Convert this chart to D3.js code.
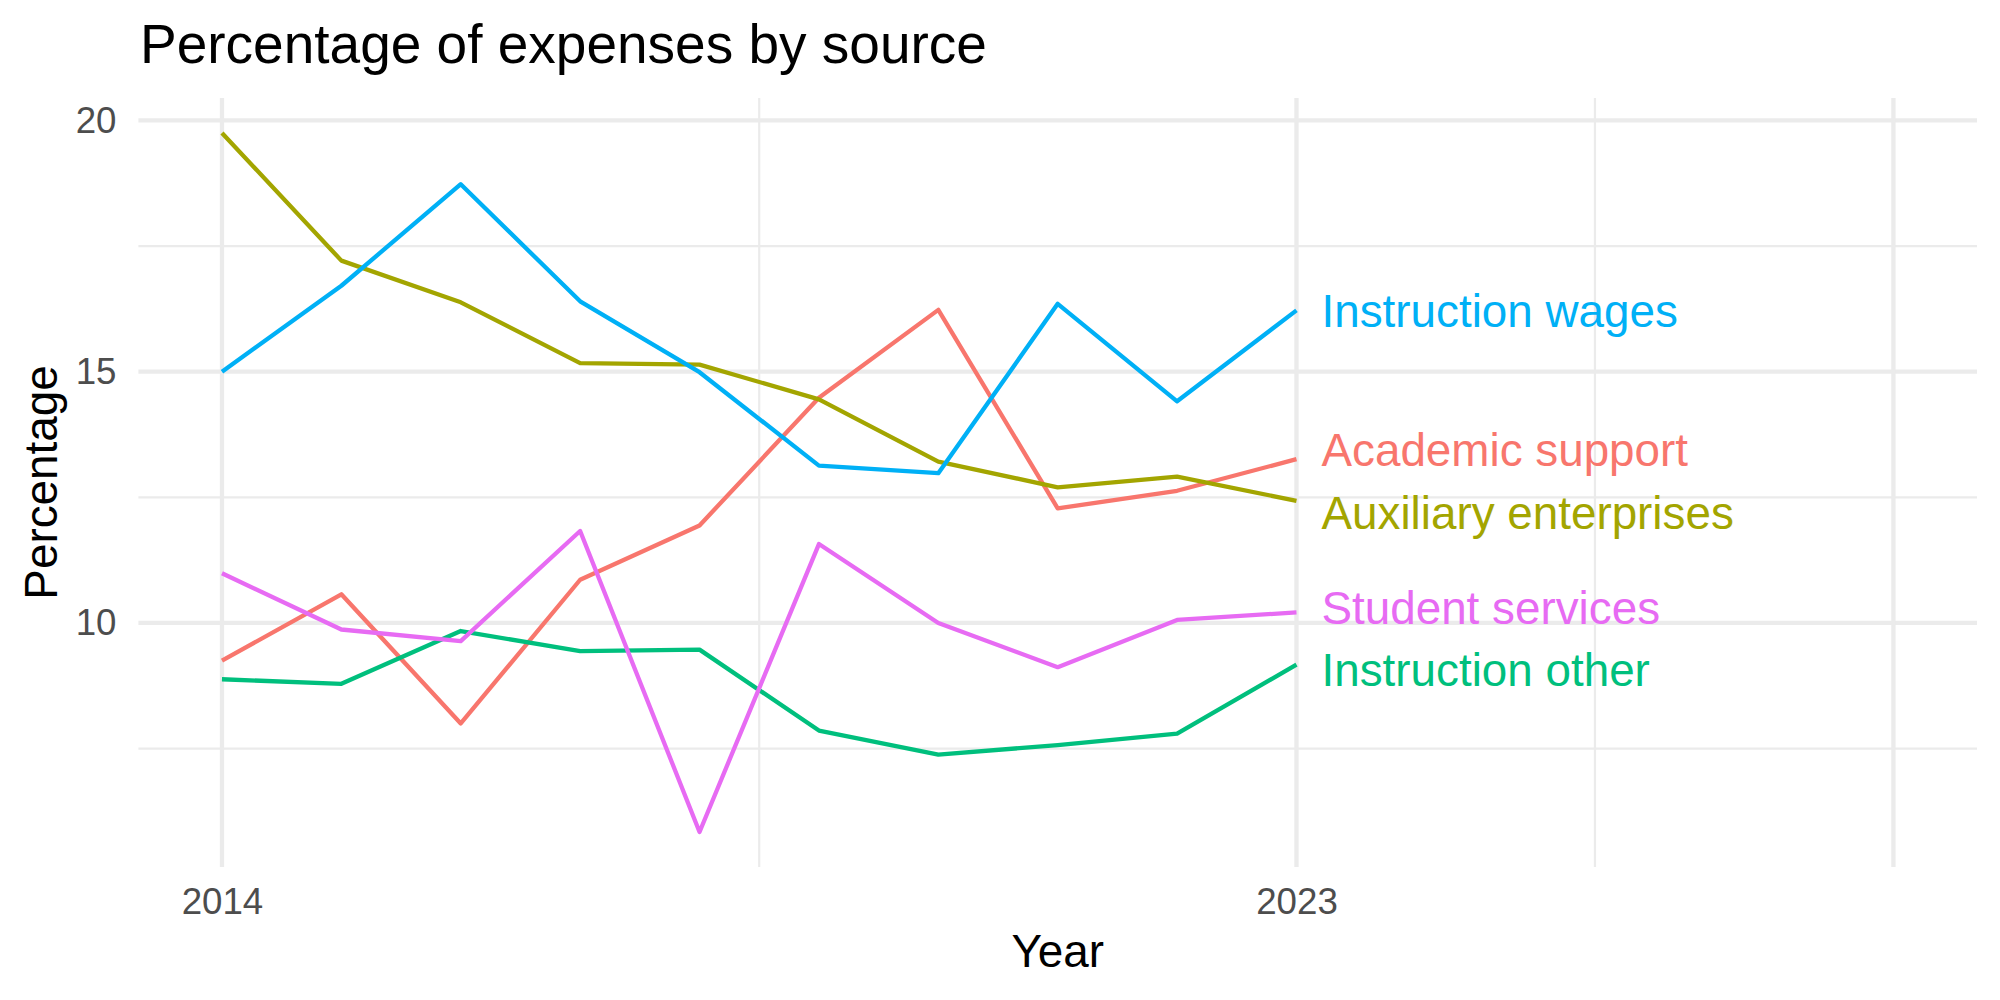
<!DOCTYPE html>
<html>
<head>
<meta charset="utf-8">
<script src="https://cdn.jsdelivr.net/npm/d3@7"></script>
<style>
  body { margin: 0; background: #ffffff; }
  text { font-family: "Liberation Sans", Arial, Helvetica, sans-serif; }
</style>
</head>
<body>
<svg id="chart" width="2000" height="1000"></svg>
<script>
// ---------------- data ----------------
const years = [2014, 2015, 2016, 2017, 2018, 2019, 2020, 2021, 2022, 2023];
const seriesNames = ["Academic support", "Auxiliary enterprises", "Instruction other", "Instruction wages", "Student services"];
const academicSupport      = [9.25, 10.57, 8.00, 10.86, 11.94, 14.48, 16.23, 12.28, 12.63, 13.26];
const auxiliaryEnterprises = [19.75, 17.21, 16.38, 15.17, 15.14, 14.45, 13.21, 12.70, 12.91, 12.43];
const instructionOther     = [8.88, 8.79, 9.84, 9.44, 9.47, 7.86, 7.38, 7.57, 7.80, 9.17];
const instructionWages     = [15.00, 16.71, 18.73, 16.40, 14.99, 13.13, 12.98, 16.35, 14.41, 16.22];
const studentServices      = [10.99, 9.87, 9.64, 11.83, 5.84, 11.57, 10.00, 9.12, 10.06, 10.21];
const seriesColors = ["#F8766D", "#A3A500", "#00BF7D", "#00B0F6", "#E76BF3"];
// label values (repelled end labels, in data units)
const labelValues = [13.45, 12.19, 9.06, 16.20, 10.30];

const xTickValues = [2014, 2023, 2028];
const xTickLabels = ["2014", "2023", ""];
const xMinorTicks = [2018.5, 2025.5];
const yTickValues = [10, 15, 20];
const yTickLabels = ["10", "15", "20"];
const yMinorTicks = [7.5, 12.5, 17.5];

const titleText = "Percentage of expenses by source";
const xTitle = "Year";
const yTitle = "Percentage";

// ---------------- chart ----------------
const seriesValues = [academicSupport, auxiliaryEnterprises, instructionOther, instructionWages, studentServices];
const series = seriesNames.map((name, i) => ({
  name, color: seriesColors[i], labelValue: labelValues[i],
  points: years.map((y, j) => ({ x: y, y: seriesValues[i][j] }))
}));

const svg = d3.select("#chart");
const panel = { left: 138.4, right: 1977, top: 98, bottom: 867 };

function expand(ext, f) { const d = (ext[1] - ext[0]) * f; return [ext[0] - d, ext[1] + d]; }

const xScale = d3.scaleLinear()
  .domain(expand(d3.extent(xTickValues), 0.05))
  .range([panel.left, panel.right]);
const allVals = seriesValues.flat();
const yScale = d3.scaleLinear()
  .domain(expand(d3.extent(allVals), 0.05))
  .range([panel.bottom, panel.top]);

const grid = svg.append("g").attr("stroke", "#EBEBEB").attr("fill", "none");
// minor grid
grid.selectAll(".ymin").data(yMinorTicks).join("line")
  .attr("x1", panel.left).attr("x2", panel.right)
  .attr("y1", d => yScale(d)).attr("y2", d => yScale(d))
  .attr("stroke-width", 2.2);
grid.selectAll(".xmin").data(xMinorTicks).join("line")
  .attr("y1", panel.top).attr("y2", panel.bottom)
  .attr("x1", d => xScale(d)).attr("x2", d => xScale(d))
  .attr("stroke-width", 2.2);
// major grid
grid.selectAll(".ymaj").data(yTickValues).join("line")
  .attr("x1", panel.left).attr("x2", panel.right)
  .attr("y1", d => yScale(d)).attr("y2", d => yScale(d))
  .attr("stroke-width", 4.3);
grid.selectAll(".xmaj").data(xTickValues).join("line")
  .attr("y1", panel.top).attr("y2", panel.bottom)
  .attr("x1", d => xScale(d)).attr("x2", d => xScale(d))
  .attr("stroke-width", 4.3);

// axes (ticks hidden, labels only)
const yAxis = d3.axisLeft(yScale).tickValues(yTickValues)
  .tickFormat((d, i) => yTickLabels[i]).tickSize(0).tickPadding(21.9);
svg.append("g").attr("transform", `translate(${panel.left},0)`).call(yAxis)
  .call(g => g.select(".domain").remove())
  .call(g => g.selectAll("text").attr("fill", "#4D4D4D").attr("font-size", 36.7)
        .attr("font-family", "Liberation Sans, Arial, sans-serif"));

const xAxis = d3.axisBottom(xScale).tickValues(xTickValues)
  .tickFormat((d, i) => xTickLabels[i]).tickSize(0).tickPadding(20.7);
svg.append("g").attr("transform", `translate(0,${panel.bottom})`).call(xAxis)
  .call(g => g.select(".domain").remove())
  .call(g => g.selectAll("text").attr("fill", "#4D4D4D").attr("font-size", 36.7)
        .attr("font-family", "Liberation Sans, Arial, sans-serif"));

// lines
const line = d3.line().x(d => xScale(d.x)).y(d => yScale(d.y));
svg.append("g").selectAll("path").data(series).join("path")
  .attr("d", d => line(d.points))
  .attr("fill", "none")
  .attr("stroke", d => d.color)
  .attr("stroke-width", 4.3)
  .attr("stroke-linejoin", "round")
  .attr("stroke-linecap", "butt");

// end labels
const lastYear = years[years.length - 1];
svg.append("g").selectAll("text").data(series).join("text")
  .attr("x", xScale(lastYear) + 25)
  .attr("y", d => yScale(d.labelValue))
  .attr("dy", "0.35em")
  .attr("fill", d => d.color)
  .attr("font-size", 45.8)
  .text(d => d.name);

// titles
svg.append("text").attr("x", 140).attr("y", 63)
  .attr("font-size", 55).attr("fill", "#000").text(titleText);
svg.append("text").attr("x", (panel.left + panel.right) / 2).attr("y", 967)
  .attr("text-anchor", "middle").attr("font-size", 45.8).attr("fill", "#000").text(xTitle);
svg.append("text")
  .attr("transform", `translate(57,${(panel.top + panel.bottom) / 2}) rotate(-90)`)
  .attr("text-anchor", "middle").attr("font-size", 45.8).attr("fill", "#000").text(yTitle);
</script>
</body>
</html>
